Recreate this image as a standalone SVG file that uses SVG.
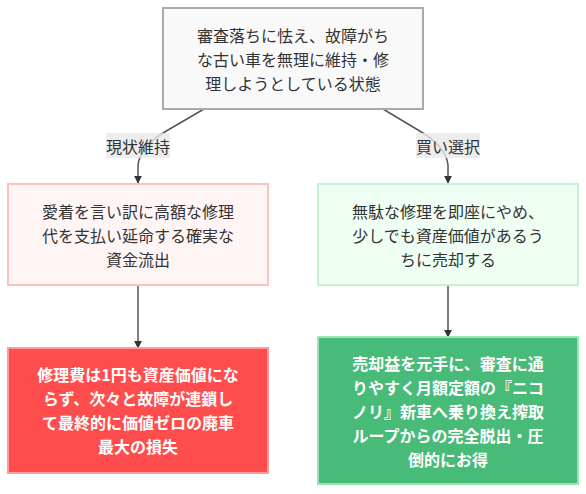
<svg xmlns="http://www.w3.org/2000/svg" width="586" height="494" viewBox="0 0 586 494">
<defs>
<marker id="arr" viewBox="0 0 10 10" refX="9" refY="5" markerWidth="8" markerHeight="8" markerUnits="userSpaceOnUse" orient="auto">
<path d="M0,0 L10,5 L0,10 z" fill="#333"/>
</marker>
<style>
text{font-family:"Noto Sans CJK JP","Noto Sans",sans-serif;font-size:16px;fill:#333;text-anchor:middle;dominant-baseline:central}
.w{fill:#fff;font-weight:bold}
.edge{fill:none;stroke:#555;stroke-width:1.5}
.lbl{fill:rgba(232,232,232,0.8)}
.lt{font-size:16px}
</style>
</defs>
<rect width="586" height="494" fill="#fff"/>
<g id="connectors">
<path class="edge" d="M204,109 L168,130 Q140,146 138,165 L138,183" marker-end="url(#arr)"/>
<path class="edge" d="M383,109 L418,130 Q446,146 448,165 L448,183" marker-end="url(#arr)"/>
<path class="edge" d="M138,285 L138,348" marker-end="url(#arr)"/>
<path class="edge" d="M448,285 L448,337" marker-end="url(#arr)"/>
<rect class="lbl" x="106" y="133" width="64" height="25"/>
<text class="lt" x="138" y="145.5">現状維持</text>
<rect class="lbl" x="416" y="133" width="64" height="25"/>
<text class="lt" x="448" y="145.5">買い選択</text>
</g>
<g id="top">
<rect x="163" y="8" width="260" height="101" fill="#f9f9f9" stroke="#aaa" stroke-width="2"/>
<text x="293" y="35">審査落ちに怯え、故障がち</text>
<text x="293" y="59">な古い車を無理に維持・修</text>
<text x="293" y="83">理しようとしている状態</text>
</g>
<g id="keep">
<rect x="8" y="184" width="260" height="101" fill="#fff5f5" stroke="#ffc0c0" stroke-width="2"/>
<text x="138" y="211">愛着を言い訳に高額な修理</text>
<text x="138" y="235">代を支払い延命する確実な</text>
<text x="138" y="259">資金流出</text>
</g>
<g id="buy">
<rect x="318" y="184" width="260" height="101" fill="#f0fff4" stroke="#c6f0d2" stroke-width="2"/>
<text x="448" y="211">無駄な修理を即座にやめ、</text>
<text x="448" y="235">少しでも資産価値があるう</text>
<text x="448" y="259">ちに売却する</text>
</g>
<g id="loss">
<rect x="8" y="348" width="260" height="125" fill="#ff4d4d" stroke="#ff9a9a" stroke-width="2"/>
<text class="w" x="138" y="374">修理費は1円も資産価値にな</text>
<text class="w" x="138" y="398">らず、次々と故障が連鎖し</text>
<text class="w" x="138" y="422">て最終的に価値ゼロの廃車</text>
<text class="w" x="138" y="446">最大の損失</text>
</g>
<g id="gain">
<rect x="318" y="337" width="260" height="147" fill="#48bb78" stroke="#9ae6b4" stroke-width="2"/>
<text class="w" x="448" y="362.5">売却益を元手に、審査に通</text>
<text class="w" x="448" y="386.5">りやすく月額定額の『ニコ</text>
<text class="w" x="448" y="410.5">ノリ』新車へ乗り換え搾取</text>
<text class="w" x="448" y="434.5">ループからの完全脱出・圧</text>
<text class="w" x="448" y="458.5">倒的にお得</text>
</g>
</svg>
